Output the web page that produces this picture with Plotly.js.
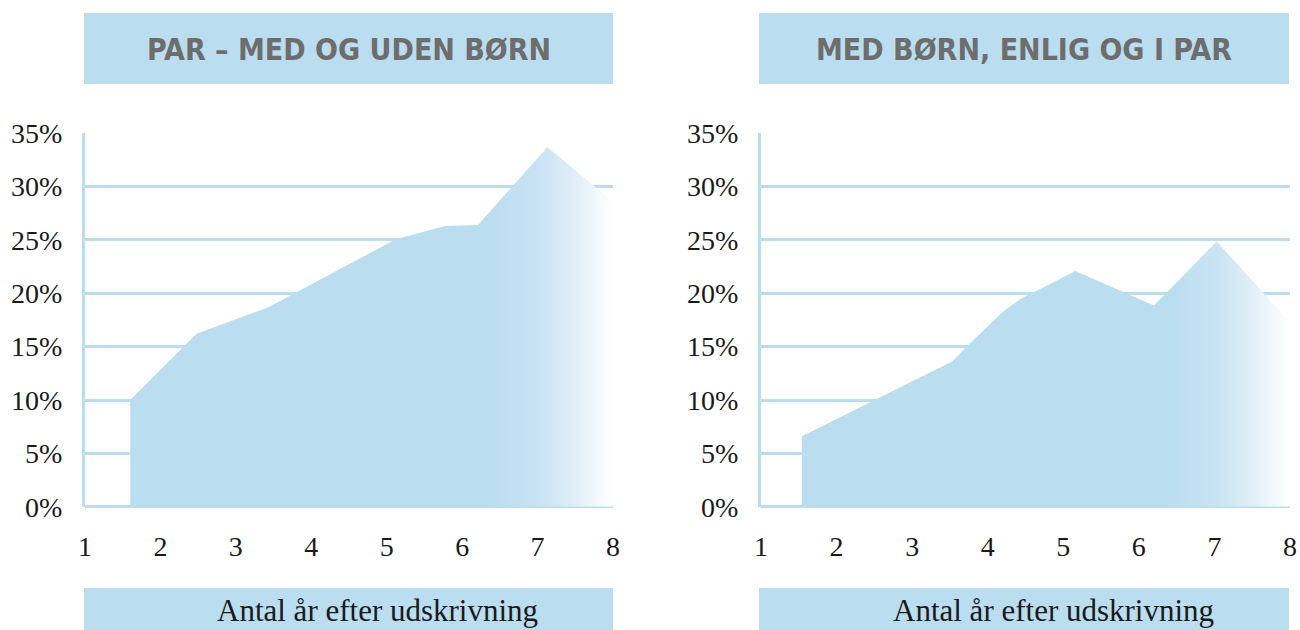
<!DOCTYPE html>
<html>
<head>
<meta charset="utf-8">
<script src="https://cdn.plot.ly/plotly-3.0.1.min.js"></script>
<style>html,body{margin:0;padding:0;background:#fff;}#chart{width:1300px;height:630px;}</style>
</head>
<body>
<div id="chart"></div>
<script>
// Data (x = years after discharge, y = percent)
const leftTitle = "PAR – MED OG UDEN BØRN";
const rightTitle = "MED BØRN, ENLIG OG I PAR";
const xAxisLabel = "Antal år efter udskrivning";

const leftX = [1.6, 2.48, 3.43, 5.13, 5.78, 6.21, 7.13, 8.0];
const leftY = [10.0, 16.2, 18.7, 25.1, 26.3, 26.4, 33.7, 28.6];

const rightX = [1.54, 3.53, 3.75, 4.0, 4.22, 4.44, 4.61, 5.16, 6.2, 7.03, 8.0];
const rightY = [6.6, 13.6, 15.2, 16.9, 18.4, 19.5, 20.1, 22.1, 18.85, 24.85, 17.3];

const xTicks = [1, 2, 3, 4, 5, 6, 7, 8];
const yTicks = [0, 5, 10, 15, 20, 25, 30, 35];
const yTickText = ["0%", "5%", "10%", "15%", "20%", "25%", "30%", "35%"];

const W = 1300, H = 630;
const fillColor = "rgb(187,221,240)";
const gridColor = "#bcdcf0";
const px = v => v / W;
const py = v => 1 - v / H;

const grad = {
  type: "horizontal", start: 1, stop: 8,
  colorscale: [[0, fillColor], [0.77, fillColor], [0.86, "rgb(200,227,243)"], [0.93, "rgb(225,239,248)"], [1, "rgb(255,255,255)"]]
};

const traces = [
  {x: leftX, y: leftY, xaxis: "x", yaxis: "y", type: "scatter", mode: "lines",
   fill: "tozeroy", fillcolor: fillColor, fillgradient: grad, line: {width: 0, color: fillColor}, hoverinfo: "skip"},
  {x: rightX, y: rightY, xaxis: "x2", yaxis: "y2", type: "scatter", mode: "lines",
   fill: "tozeroy", fillcolor: fillColor, fillgradient: grad, line: {width: 0, color: fillColor}, hoverinfo: "skip"}
];

const tickFont = {family: "Liberation Serif", size: 28, color: "#1a1a1a"};
function xa(domain, anchor) {
  return {domain: domain, anchor: anchor, range: [1, 8], tickvals: xTicks, ticktext: xTicks.map(String),
    showgrid: false, zeroline: false, showline: false, ticks: "outside", ticklen: 15, tickcolor: "rgba(0,0,0,0)",
    tickfont: tickFont, fixedrange: true};
}
function ya(domain, anchor) {
  return {domain: domain, anchor: anchor, range: [0, 35], tickvals: yTicks, ticktext: yTickText,
    showgrid: true, gridcolor: gridColor, gridwidth: 3, zeroline: true, zerolinecolor: gridColor, zerolinewidth: 3,
    showline: true, linecolor: gridColor, linewidth: 3, ticks: "outside", ticklen: 14, tickcolor: "rgba(0,0,0,0)",
    tickfont: tickFont, fixedrange: true};
}
const yDom = [1 - 506.7 / H, 1 - 133.3 / H];

const boxes = [
  [84, 613], [759, 1289]
];
const shapes = [];
const annotations = [];
const titles = [leftTitle, rightTitle];
boxes.forEach((b, i) => {
  shapes.push({type: "rect", xref: "paper", yref: "paper", x0: px(b[0]), x1: px(b[1]), y0: py(84), y1: py(13),
    fillcolor: "rgb(187,221,240)", line: {width: 0}, layer: "below"});
  shapes.push({type: "rect", xref: "paper", yref: "paper", x0: px(b[0]), x1: px(b[1]), y0: py(630), y1: py(588),
    fillcolor: "rgb(187,221,240)", line: {width: 0}, layer: "below"});
  annotations.push({xref: "paper", yref: "paper", x: px((b[0] + b[1]) / 2), y: py(50), xanchor: "center", yanchor: "middle",
    text: "<b>" + titles[i] + "</b>", showarrow: false,
    font: {family: "DejaVu Sans Condensed", size: 30, color: "#6d6d6d"}});
  annotations.push({xref: "paper", yref: "paper", x: px((b[0] + b[1]) / 2 + 29), y: py(610), xanchor: "center", yanchor: "middle",
    text: xAxisLabel, showarrow: false,
    font: {family: "Liberation Serif", size: 31, color: "#1a1a1a"}});
});

const layout = {
  width: W, height: H, margin: {l: 0, r: 0, t: 0, b: 0},
  paper_bgcolor: "#ffffff", plot_bgcolor: "rgba(0,0,0,0)", showlegend: false,
  xaxis: xa([85 / W, 613 / W], "y"),
  yaxis: ya(yDom, "x"),
  xaxis2: xa([761 / W, 1290 / W], "y2"),
  yaxis2: ya(yDom, "x2"),
  shapes: shapes, annotations: annotations
};

Plotly.newPlot("chart", traces, layout, {displayModeBar: false, staticPlot: true});
</script>
</body>
</html>
